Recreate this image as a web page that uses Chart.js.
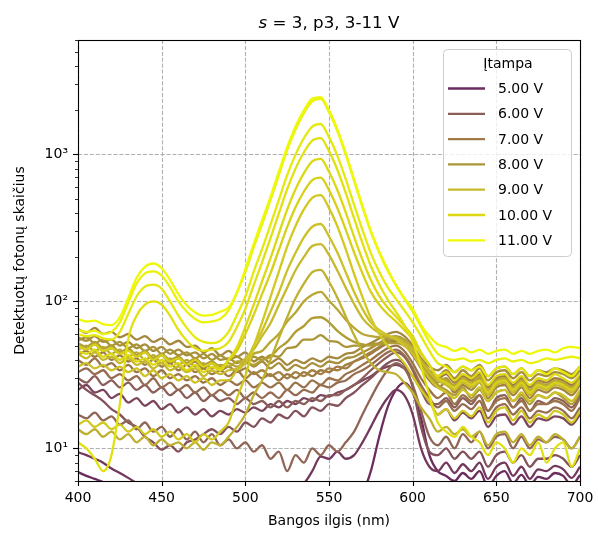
<!DOCTYPE html>
<html>
<head>
<meta charset="utf-8">
<script src="https://cdn.jsdelivr.net/npm/chart.js@4.4.1/dist/chart.umd.min.js"></script>
<style>
  html, body { margin: 0; padding: 0; background: #fff; }
</style>
</head>
<body>
<canvas id="myChart" width="598" height="535"></canvas>
<script>
// Datos (longitud de onda en nm, cuentas por serie)
const wavelengths = [
  400, 405, 410, 415, 420, 425, 430, 435, 440, 445,
  450, 455, 460, 465, 470, 475, 480, 485, 490, 495,
  500, 505, 510, 515, 520, 525, 530, 535, 540, 545,
  550, 555, 560, 565, 570, 575, 580, 585, 590, 595,
  600, 605, 610, 615, 620, 625, 630, 635, 640, 645,
  650, 655, 660, 665, 670, 675, 680, 685, 690, 695, 700
];

const voltages = [11, 10.75, 10.5, 10.25, 10, 9.75, 9.5, 9.25, 9, 8.75, 8.5, 8.25, 8,
                  7.75, 7.5, 7.25, 7, 6.75, 6.5, 6.25, 6, 5.75, 5.5, 5.25, 5];

const s1100 = [76, 73, 74, 70, 69, 78, 105, 145, 172, 181,
  168, 140, 112, 94, 84, 80, 81, 85, 91, 115,
  166, 245, 355, 513, 760, 1120, 1550, 1995, 2400, 2455,
  1995, 1480, 1020, 676, 447, 302, 219, 166, 129, 105,
  89, 69, 58, 51, 49, 46, 48, 45, 47, 44,
  46, 47, 44, 46, 44, 46, 47, 45, 48, 49, 48];
const s1075 = [64, 62, 63, 60, 62, 72, 98, 132, 155, 160,
  150, 125, 100, 85, 76, 72, 73, 76, 87, 115,
  158, 233, 334, 488, 723, 1069, 1475, 1909, 2293, 2385,
  1936, 1442, 995, 659, 438, 297, 215, 162, 129, 104,
  85, 67, 53, 44, 41, 40, 41, 39, 40, 38,
  40, 41, 39, 40, 38, 39, 41, 40, 41, 42, 41];
const s1050 = [60, 58, 59, 56, 55, 62, 82, 108, 126, 130,
  122, 100, 80, 66, 57, 53, 52, 54, 62, 81,
  108, 159, 227, 332, 489, 722, 996, 1289, 1547, 1610,
  1310, 978, 679, 454, 307, 213, 159, 125, 104, 87,
  72, 58, 46, 38, 36, 33, 36, 34, 36, 31,
  35, 36, 32, 35, 31, 34, 32, 35, 33, 31, 36];
const s1025 = [11, 10, 8.5, 7, 9, 20, 55, 80, 95, 100,
  95, 80, 64, 54, 48, 46, 47, 48, 53, 67,
  89, 129, 184, 268, 395, 581, 800, 1034, 1242, 1292,
  1052, 786, 547, 367, 249, 174, 131, 103, 85, 69,
  53, 36, 23, 15, 13, 12, 14, 12, 11, 9,
  11, 10, 8, 10, 9, 11, 8, 10, 11, 7.5, 10];
const s1000 = [46, 44, 47, 42, 44, 40, 43, 39, 41, 37,
  40, 36, 38, 34, 37, 33, 36, 34, 40, 49,
  67, 95, 137, 196, 289, 421, 580, 746, 896, 931,
  762, 572, 403, 275, 192, 140, 109, 91, 79, 68,
  58, 45, 37, 31, 33, 29, 32, 30, 33, 27,
  31, 32, 28, 31, 27, 30, 29, 32, 30, 28, 32];
const s0975 = [50, 47, 51, 46, 48, 44, 46, 42, 45, 40,
  43, 39, 41, 37, 40, 36, 38, 35, 40, 46,
  60, 81, 112, 155, 223, 320, 437, 559, 669, 694,
  571, 431, 308, 215, 155, 116, 95, 82, 73, 64,
  55, 44, 37, 30, 28, 26, 29, 27, 29, 24,
  28, 29, 25, 28, 24, 27, 26, 28, 27, 25, 29];
const s0950 = [14.5, 15.5, 14, 15, 13.5, 14.5, 13, 14, 12.5, 13.5,
  12, 13, 11.5, 12.5, 11, 12.5, 11.5, 13, 15, 22,
  31, 49, 72, 107, 159, 236, 326, 423, 507, 529,
  431, 324, 227, 154, 107, 77, 60, 50, 44, 38,
  31, 25, 21, 17, 18.5, 16, 18, 16.5, 19, 15,
  18, 19, 15.5, 18, 15, 17, 16, 18, 17, 15, 18];
const s0925 = [36, 38, 35, 37, 34, 36, 33, 35, 31, 34,
  30, 32, 29, 31, 28, 30, 27, 29, 29, 34,
  38, 50, 63, 85, 115, 162, 214, 273, 322, 336,
  277, 215, 158, 116, 89, 72, 64, 59, 55, 50,
  44, 36, 30, 26, 24, 22, 25, 23, 26, 21,
  24, 25, 21, 24, 21, 23, 22, 24, 23, 21, 25];
const s0900 = [44, 41, 45, 40, 42, 38, 41, 37, 39, 35,
  38, 34, 36, 33, 35, 31, 34, 32, 34, 35,
  41, 47, 58, 71, 94, 124, 163, 201, 238, 245,
  207, 162, 124, 96, 77, 67, 61, 58, 57, 52,
  47, 39, 33, 29, 27, 25, 28, 26, 28, 23,
  27, 28, 24, 27, 23, 26, 25, 27, 26, 24, 28];
const s0875 = [13.5, 12.5, 13.5, 12, 13, 11.5, 12.5, 11, 12, 10.5,
  11.5, 10.5, 11, 10, 11, 9.8, 11, 10.5, 12, 14,
  17, 23, 29, 40, 56, 78, 105, 132, 158, 164,
  136, 106, 79, 59, 46, 38, 34, 33, 32, 28,
  24, 19, 16, 13, 14, 12.5, 13.5, 12, 13, 10.5,
  12.5, 13, 11, 12.5, 10.5, 12, 11, 12.5, 11.5, 10, 12];
const s0850 = [47, 50, 46, 49, 44, 47, 42, 45, 40, 43,
  38, 41, 37, 40, 36, 38, 35, 37, 36, 39,
  39, 44, 46, 53, 60, 73, 84, 100, 111, 116,
  101, 88, 75, 66, 60, 58, 57, 57, 57, 54,
  48, 40, 34, 31, 29, 27, 30, 28, 31, 25,
  29, 30, 26, 29, 25, 28, 27, 29, 28, 26, 30];
const s0825 = [52, 49, 53, 48, 50, 45, 48, 43, 46, 41,
  44, 40, 42, 38, 41, 37, 39, 36, 38, 36,
  38, 37, 40, 42, 48, 53, 62, 68, 77, 78,
  72, 63, 57, 53, 51, 50, 51, 52, 52, 50,
  45, 37, 31, 27, 25, 23, 26, 22, 25, 21,
  24, 25, 21, 23, 20, 23, 22, 24, 22, 20, 24];
const s0800 = [54, 57, 52, 55, 50, 53, 48, 51, 46, 49,
  44, 47, 43, 45, 41, 44, 40, 43, 40, 42,
  39, 42, 40, 43, 42, 48, 49, 55, 55, 59,
  54, 53, 49, 50, 50, 51, 52, 54, 55, 51,
  45, 38, 32, 28, 30, 26, 29, 27, 30, 24,
  28, 29, 25, 28, 24, 27, 26, 28, 27, 25, 29];
const s0775 = [57, 54, 58, 53, 55, 50, 53, 48, 51, 46,
  49, 44, 47, 43, 45, 41, 44, 40, 41, 38,
  40, 36, 39, 35, 38, 34, 37, 35, 38, 36,
  39, 38, 41, 42, 45, 48, 52, 56, 58, 55,
  47, 38, 32, 31, 34, 30, 34, 31, 35, 29,
  33, 34, 30, 33, 29, 32, 31, 33, 32, 30, 34];
const s0750 = [65, 61, 66, 60, 62, 57, 60, 55, 58, 53,
  56, 51, 54, 49, 50, 45, 48, 43, 46, 42,
  45, 39, 42, 38, 41, 37, 40, 38, 41, 39,
  42, 41, 44, 45, 49, 52, 56, 60, 62, 58,
  50, 41, 36, 34, 37, 33, 36, 34, 37, 31,
  35, 36, 32, 35, 31, 34, 33, 35, 34, 32, 36];
const s0725 = [50, 47, 51, 46, 48, 44, 47, 42, 45, 40,
  43, 38, 41, 37, 39, 35, 38, 34, 36, 33,
  35, 32, 34, 31, 33, 30, 33, 31, 34, 32,
  35, 34, 37, 39, 42, 45, 49, 53, 56, 52,
  44, 35, 29, 26, 28, 24, 27, 25, 28, 22,
  26, 27, 23, 26, 22, 25, 24, 26, 25, 23, 27];
const s0700 = [43, 46, 42, 45, 40, 43, 39, 41, 37, 40,
  36, 38, 34, 37, 33, 35, 32, 34, 31, 34,
  30, 33, 30, 32, 29, 32, 30, 33, 31, 34,
  33, 36, 35, 39, 41, 44, 48, 52, 54, 51,
  43, 36, 32, 30, 32, 28, 31, 29, 32, 26,
  30, 31, 27, 30, 26, 29, 28, 30, 29, 27, 31];
const s0675 = [40, 37, 41, 36, 38, 34, 37, 33, 35, 31,
  34, 30, 32, 29, 31, 28, 30, 27, 29, 27,
  29, 26, 28, 26, 28, 25, 28, 26, 29, 27,
  30, 29, 32, 34, 37, 40, 44, 48, 50, 46,
  38, 30, 25, 22, 24, 20, 23, 21, 23, 18,
  21, 22, 19, 21, 18, 20, 20, 21, 20, 18, 22];
const s0650 = [33, 35, 32, 34, 30, 32, 29, 31, 27, 30,
  26, 28, 25, 27, 24, 26, 23, 25, 23, 25,
  22, 24, 22, 24, 22, 25, 23, 25, 24, 27,
  26, 28, 29, 32, 34, 37, 41, 45, 47, 43,
  35, 27, 22, 19, 21, 18, 20, 18.5, 21, 16,
  19, 20, 17, 19, 16, 18, 17.5, 19, 18, 16, 19];
const s0625 = [17, 16, 17.5, 15.5, 16.5, 14.5, 15.5, 13.5, 15, 13,
  14, 12, 13.5, 11.5, 13, 11, 12.5, 10.5, 11.5, 10,
  11, 9.5, 10.5, 8.5, 9.5, 7, 9, 8, 10, 9,
  10.5, 9.5, 11, 13, 17, 22, 28, 34, 38, 35,
  27, 18, 12, 10.5, 12, 10, 12.5, 11, 13, 10,
  12, 12.5, 10, 12, 10, 11.5, 11, 12, 11.5, 10, 12];
const s0600 = [30, 28, 31, 27, 29, 26, 28, 25, 27, 24,
  26, 23, 25, 22, 24, 21, 23, 21, 22, 20,
  22, 20, 21, 19, 21, 19, 21, 20, 22, 21,
  23, 23, 25, 27, 30, 34, 38, 42, 45, 42,
  34, 25, 20, 20, 22, 19, 22, 20, 23, 18,
  22, 23, 19, 22, 18, 21, 20, 22, 21, 19, 23];
const s0575 = [28, 25, 23, 21, 18.5, 17, 15, 14, 12, 11,
  9.8, 10.5, 9.5, 11, 11.5, 12.5, 13.5, 12.5, 14, 13,
  15, 14, 16, 15, 17, 16, 18, 16.5, 19, 18,
  20, 19.5, 22, 24, 27, 30, 34, 38, 40, 37,
  26, 14, 9.5, 9, 10, 8.5, 9.5, 8.5, 9.5, 7.5,
  9, 9.5, 8, 9, 7.5, 8.5, 8.5, 9, 8.5, 7.5, 9];
const s0550 = [25, 27, 24, 25, 22, 23.5, 20.5, 22, 19.5, 21,
  18.5, 20, 17.5, 19, 17, 18.5, 16.5, 18, 17, 18.5,
  17.5, 19, 18, 20, 19, 21, 20, 22, 21, 23,
  22.5, 24, 25, 27, 29, 31, 34, 36, 37, 35,
  31, 25, 21, 17, 18.5, 15.5, 17.5, 16, 18, 14,
  16.5, 17, 14.5, 16.5, 14, 16, 15.5, 16.5, 16, 14.5, 17];
const s0525 = [9.4, 9, 8.5, 8, 7.3, 6.8, 6.3, 5.8, 5.3, 5,
  4.8, 4.6, 4.8, 4.5, 4.7, 4.5, 4.8, 4.6, 5, 4.8,
  5.2, 5, 5.4, 5.2, 5.6, 5.4, 5.6, 5.8, 7, 8.8,
  8.5, 9.5, 8.5, 9, 11, 14, 18, 22, 25, 23,
  17, 10, 7.5, 7, 8, 6.8, 7.8, 7, 8, 6.2,
  7.5, 8, 6.5, 7.5, 6.2, 7.2, 7, 7.6, 7.2, 6.3, 7.5];
const s0500 = [6.9, 6.5, 6.2, 5.9, 5.5, 5.2, 5, 4.8, 4.6, 4.5,
  4.4, 4.4, 4.3, 4.3, 4.2, 4.2, 4.2, 4.2, 4.2, 4.2,
  4.2, 4.2, 4.2, 4.2, 4.3, 4.3, 4.3, 4.3, 4.4, 4.4,
  4.4, 4.4, 4.5, 4.5, 5, 7, 12, 19, 25, 28,
  24, 16, 9, 7, 6.5, 6, 6.8, 6.2, 7, 5.5,
  6.5, 7, 5.8, 6.6, 5.6, 6.4, 6.2, 6.8, 6.5, 5.6, 6.6];

const seriesValues = [s1100, s1075, s1050, s1025, s1000, s0975, s0950, s0925, s0900,
  s0875, s0850, s0825, s0800, s0775, s0750, s0725, s0700, s0675, s0650, s0625,
  s0600, s0575, s0550, s0525, s0500];

const legendVoltages = [5, 6, 7, 8, 9, 10, 11];
const xTicks = [400, 450, 500, 550, 600, 650, 700];
const yTicks = [10, 100, 1000];
const yTickLabels = ['10\u00b9', '10\u00b2', '10\u00b3'];

// Colores de referencia (leyenda) por voltaje entero
const colorAnchors = {
  5: [107, 45, 94], 6: [139, 94, 90], 7: [160, 122, 69], 8: [169, 149, 56],
  9: [198, 185, 44], 10: [220, 216, 18], 11: [238, 249, 10]
};
function voltageColor(v) {
  var lo = Math.floor(v), hi = Math.min(11, lo + 1), t = v - lo;
  var a = colorAnchors[lo], b = colorAnchors[hi];
  var c = a.map((ai, k) => Math.round(ai + (b[k] - ai) * t));
  return 'rgb(' + c.join(',') + ')';
}

const FONT = 'DejaVu Sans';

// Rejilla, marcas, marco, título y leyenda dibujados a mano
const framePlugin = {
  id: 'framePlugin',
  beforeDatasetsDraw(chart) {
    const ctx = chart.ctx, a = chart.chartArea, xs = chart.scales.x, ys = chart.scales.y;
    ctx.save();
    ctx.strokeStyle = '#b0b0b0';
    ctx.lineWidth = 1.1;
    ctx.setLineDash([4.1, 1.8]);
    xTicks.forEach(v => {
      const px = Math.round(xs.getPixelForValue(v)) + 0.5;
      ctx.beginPath(); ctx.moveTo(px, a.top); ctx.lineTo(px, a.bottom); ctx.stroke();
    });
    yTicks.forEach(v => {
      const py = Math.round(ys.getPixelForValue(v)) + 0.5;
      ctx.beginPath(); ctx.moveTo(a.left, py); ctx.lineTo(a.right, py); ctx.stroke();
    });
    ctx.restore();
  },
  afterDraw(chart) {
    const ctx = chart.ctx, a = chart.chartArea, xs = chart.scales.x, ys = chart.scales.y;
    ctx.save();
    ctx.strokeStyle = '#000';
    ctx.setLineDash([]);
    // marco
    ctx.lineWidth = 1.1;
    ctx.strokeRect(Math.round(a.left) + 0.5, Math.round(a.top) + 0.5,
      Math.round(a.right - a.left), Math.round(a.bottom - a.top));
    // marcas mayores
    xTicks.forEach(v => {
      const px = Math.round(xs.getPixelForValue(v)) + 0.5;
      ctx.beginPath(); ctx.moveTo(px, a.bottom); ctx.lineTo(px, a.bottom + 5); ctx.stroke();
    });
    yTicks.forEach(v => {
      const py = Math.round(ys.getPixelForValue(v)) + 0.5;
      ctx.beginPath(); ctx.moveTo(a.left - 5, py); ctx.lineTo(a.left, py); ctx.stroke();
    });
    // marcas menores (escala log)
    ctx.lineWidth = 0.8;
    [1, 10, 100, 1000].forEach(d => {
      for (let m = 2; m <= 9; m++) {
        const v = m * d;
        if (v < 6 || v > 6000) continue;
        const py = Math.round(ys.getPixelForValue(v)) + 0.5;
        ctx.beginPath(); ctx.moveTo(a.left - 3, py); ctx.lineTo(a.left, py); ctx.stroke();
      }
    });

    // título con la "s" en cursiva
    const cx = (a.left + a.right) / 2;
    const fItal = 'italic 16.7px "' + FONT + '"', fNorm = '16.7px "' + FONT + '"';
    const rest = ' = 3, p3, 3-11 V';
    ctx.font = fItal; const w1 = ctx.measureText('s').width;
    ctx.font = fNorm; const w2 = ctx.measureText(rest).width;
    let tx = cx - (w1 + w2) / 2;
    ctx.fillStyle = '#000';
    ctx.textBaseline = 'alphabetic';
    ctx.textAlign = 'left';
    ctx.font = fItal; ctx.fillText('s', tx, 28);
    ctx.font = fNorm; ctx.fillText(rest, tx + w1, 28);

    // leyenda
    const bx = 443.5, by = 49.5, bw = 128, bh = 207, r = 4;
    ctx.beginPath();
    ctx.moveTo(bx + r, by);
    ctx.arcTo(bx + bw, by, bx + bw, by + bh, r);
    ctx.arcTo(bx + bw, by + bh, bx, by + bh, r);
    ctx.arcTo(bx, by + bh, bx, by, r);
    ctx.arcTo(bx, by, bx + bw, by, r);
    ctx.closePath();
    ctx.fillStyle = 'rgba(255,255,255,0.8)';
    ctx.fill();
    ctx.strokeStyle = '#cccccc';
    ctx.lineWidth = 1;
    ctx.stroke();

    ctx.font = '14px "' + FONT + '"';
    ctx.fillStyle = '#000';
    ctx.textAlign = 'center';
    ctx.textBaseline = 'middle';
    ctx.fillText('\u012etampa', 508, 64);
    ctx.textAlign = 'left';
    legendVoltages.forEach((v, i) => {
      const y = 88.5 + i * 25.3;
      ctx.strokeStyle = voltageColor(v);
      ctx.lineWidth = 2.3;
      ctx.beginPath(); ctx.moveTo(448, y); ctx.lineTo(485, y); ctx.stroke();
      ctx.fillStyle = '#000';
      ctx.fillText(v.toFixed(2) + ' V', 498, y + 1);
    });
    ctx.restore();
  }
};

const datasets = voltages.map((v, i) => ({
  label: v.toFixed(2) + ' V',
  data: wavelengths.map((w, j) => ({ x: w, y: seriesValues[i][j] })),
  borderColor: voltageColor(v),
  backgroundColor: voltageColor(v),
  borderWidth: 2.3,
  pointRadius: 0,
  cubicInterpolationMode: 'monotone',
  fill: false
}));

const hiddenGrid = {
  display: true, drawOnChartArea: false, drawTicks: true, tickLength: 5,
  color: 'rgba(0,0,0,0)', tickColor: 'rgba(0,0,0,0)'
};

var ctx = document.getElementById('myChart').getContext('2d');
var myChart = new Chart(ctx, {
  type: 'line',
  data: { datasets: datasets },
  options: {
    responsive: false,
    animation: false,
    layout: { padding: { top: 40, right: 18, left: 0, bottom: 0 } },
    plugins: {
      legend: { display: false },
      title: { display: false },
      tooltip: { enabled: false }
    },
    scales: {
      x: {
        type: 'linear', min: 400, max: 700,
        afterBuildTicks: s => { s.ticks = xTicks.map(v => ({ value: v })); },
        ticks: {
          color: '#000', font: { family: FONT, size: 14 }, padding: 4, maxRotation: 0,
          callback: v => String(v)
        },
        grid: hiddenGrid,
        border: { display: false },
        title: {
          display: true, text: 'Bangos ilgis (nm)', color: '#000',
          font: { family: FONT, size: 14 }, padding: { top: 0, bottom: 5 }
        },
        afterFit: s => { s.height = 54; }
      },
      y: {
        type: 'logarithmic', min: 6, max: 6000,
        afterBuildTicks: s => { s.ticks = yTicks.map(v => ({ value: v })); },
        ticks: {
          color: '#000', font: { family: FONT, size: 14 }, padding: 5,
          callback: v => { const k = yTicks.indexOf(v); return k >= 0 ? yTickLabels[k] : ''; }
        },
        grid: hiddenGrid,
        border: { display: false },
        title: {
          display: true, text: 'Detektuotų fotonų skaičius', color: '#000',
          font: { family: FONT, size: 14 }, padding: { top: 12, bottom: 0 }
        },
        afterFit: s => { s.width = 78; }
      }
    }
  },
  plugins: [framePlugin]
});
</script>
</body>
</html>
